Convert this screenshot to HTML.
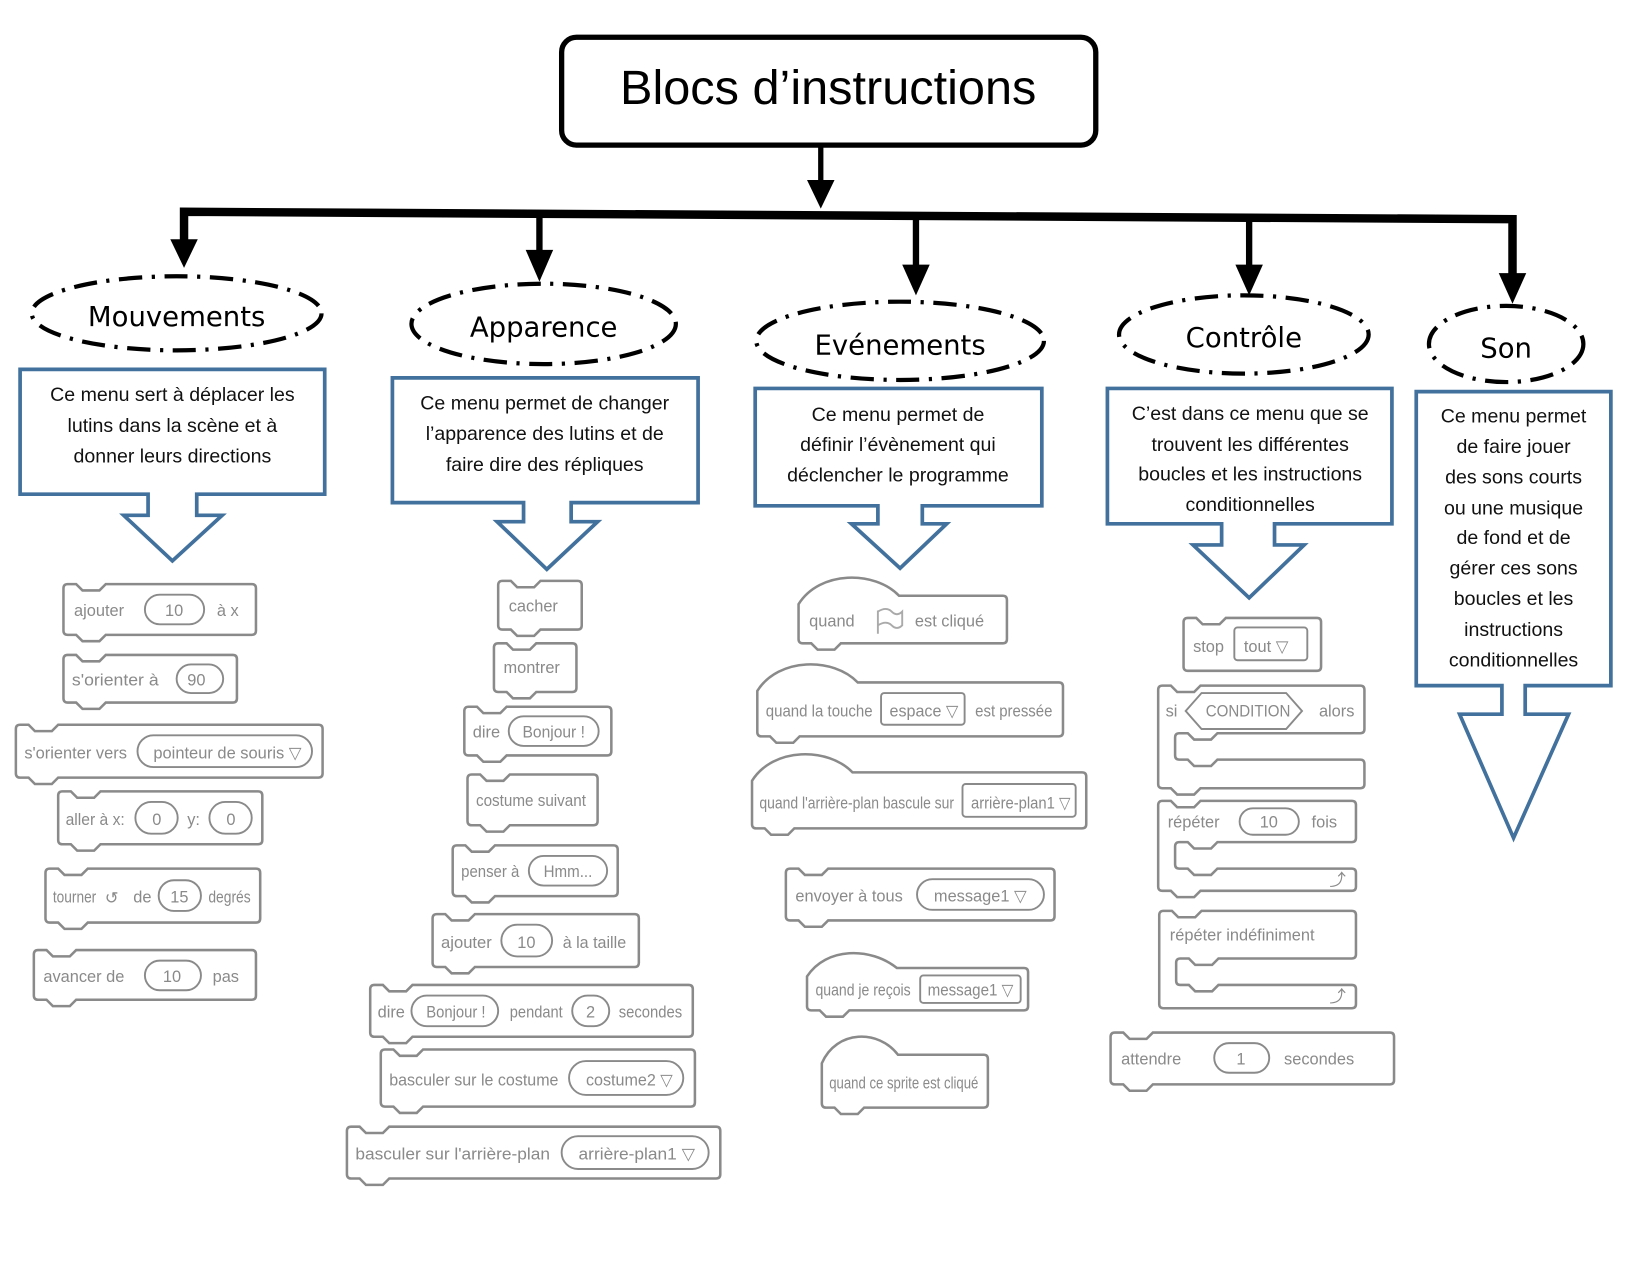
<!DOCTYPE html>
<html><head><meta charset="utf-8"><style>
html,body{margin:0;padding:0;background:#fff}
svg{display:block}
.b{fill:#fff;stroke:#8a8a8a;stroke-width:2.4}
.o{fill:#fff;stroke:#8a8a8a;stroke-width:1.8}
.t{font-family:"Liberation Sans",sans-serif;fill:#8a8a8a;font-size:15.5px}
.c{fill:#fff;stroke:#41719c;stroke-width:3.5}
.ct{font-family:"Liberation Sans",sans-serif;fill:#111;font-size:18.5px;text-anchor:middle}
.e{fill:#fff;stroke:#000;stroke-width:4;stroke-dasharray:22 9 3 9}
.et{font-family:"DejaVu Sans",sans-serif;fill:#000;font-size:26px;text-anchor:middle}
</style></head><body>
<svg width="1650" height="1275" viewBox="0 0 1560 1205" xmlns="http://www.w3.org/2000/svg">
<rect x="531" y="35" width="505" height="102" rx="14" fill="#fff" stroke="#000" stroke-width="5"/>
<text x="783" y="98" font-family="Liberation Sans, sans-serif" font-size="46" text-anchor="middle" fill="#000">Blocs d’instructions</text>
<line x1="776" y1="137" x2="776" y2="172" stroke="#000" stroke-width="5"/>
<polygon points="763,170 789,170 776,197" fill="#000"/>
<polyline points="174,228 174,200 1430,207 1430,260" fill="none" stroke="#000" stroke-width="8"/>
<line x1="510" y1="201" x2="510" y2="238" stroke="#000" stroke-width="6"/>
<line x1="866" y1="203" x2="866" y2="252" stroke="#000" stroke-width="6"/>
<line x1="1181" y1="205" x2="1181" y2="252" stroke="#000" stroke-width="6"/>
<polygon points="161,226 187,226 174,253" fill="#000"/>
<polygon points="497,236 523,236 510,266" fill="#000"/>
<polygon points="853,250 879,250 866,279" fill="#000"/>
<polygon points="1168,250 1194,250 1181,279" fill="#000"/>
<polygon points="1417,258 1443,258 1430,287" fill="#000"/>
<ellipse class="e" cx="167" cy="296" rx="137" ry="35"/><text class="et" x="167" y="308">Mouvements</text>
<ellipse class="e" cx="514" cy="306" rx="125" ry="38"/><text class="et" x="514" y="318">Apparence</text>
<ellipse class="e" cx="851" cy="322" rx="136" ry="37"/><text class="et" x="851" y="335">Evénements</text>
<ellipse class="e" cx="1176" cy="316" rx="118" ry="37"/><text class="et" x="1176" y="328">Contrôle</text>
<ellipse class="e" cx="1424" cy="325" rx="73" ry="36"/><text class="et" x="1424" y="338">Son</text>
<path class="c" d="M19 349H307V467H186V487H210L163 530L117 487H140V467H19Z"/>
<text class="ct" x="163" y="379">Ce menu sert à déplacer les</text>
<text class="ct" x="163" y="408">lutins dans la scène et à</text>
<text class="ct" x="163" y="437">donner leurs directions</text>
<path class="c" d="M371 357H660V475H540V493H565L517 538L470 493H495V475H371Z"/>
<text class="ct" x="515" y="387">Ce menu permet de changer</text>
<text class="ct" x="515" y="416">l’apparence des lutins et de</text>
<text class="ct" x="515" y="445">faire dire des répliques</text>
<path class="c" d="M714 367H985V478H872V495H895L851 537L805 495H830V478H714Z"/>
<text class="ct" x="849" y="398">Ce menu permet de</text>
<text class="ct" x="849" y="426">définir l’évènement qui</text>
<text class="ct" x="849" y="455">déclencher le programme</text>
<path class="c" d="M1047 367H1316V495H1205V515H1233L1181 565L1128 515H1155V495H1047Z"/>
<text class="ct" x="1182" y="397">C’est dans ce menu que se</text>
<text class="ct" x="1182" y="426">trouvent les différentes</text>
<text class="ct" x="1182" y="454">boucles et les instructions</text>
<text class="ct" x="1182" y="483">conditionnelles</text>
<path class="c" d="M1339 370H1523V648H1442V675H1483L1431 792L1380 675H1420V648H1339Z"/>
<text class="ct" x="1431" y="399">Ce menu permet</text>
<text class="ct" x="1431" y="428">de faire jouer</text>
<text class="ct" x="1431" y="457">des sons courts</text>
<text class="ct" x="1431" y="486">ou une musique</text>
<text class="ct" x="1431" y="514">de fond et de</text>
<text class="ct" x="1431" y="543">gérer ces sons</text>
<text class="ct" x="1431" y="572">boucles et les</text>
<text class="ct" x="1431" y="601">instructions</text>
<text class="ct" x="1431" y="630">conditionnelles</text>

<g transform="translate(60,552)"><path class="b" d="M0 4Q0 0 4 0H12L18 6H34L40 0H178Q182 0 182 4V44Q182 48 178 48H40L34 54H18L12 48H4Q0 48 0 44Z"/>
<text class="t" x="10" y="30">ajouter</text><rect class="o" x="77" y="10" width="56" height="28" rx="14"/><text class="t" x="96" y="30">10</text><text class="t" x="145" y="30">à x</text></g>
<g transform="translate(60,619)"><path class="b" d="M0 4Q0 0 4 0H12L18 6H34L40 0H160Q164 0 164 4V41Q164 45 160 45H40L34 51H18L12 45H4Q0 45 0 41Z"/>
<text class="t" x="8" y="29" textLength="82" lengthAdjust="spacingAndGlyphs">s'orienter à</text><rect class="o" x="107" y="9" width="44" height="27" rx="13.5"/><text class="t" x="117" y="29">90</text></g>
<g transform="translate(15,685)"><path class="b" d="M0 4Q0 0 4 0H12L18 6H34L40 0H286Q290 0 290 4V46Q290 50 286 50H40L34 56H18L12 50H4Q0 50 0 46Z"/>
<text class="t" x="8" y="32" textLength="97" lengthAdjust="spacingAndGlyphs">s'orienter vers</text><rect class="o" x="115" y="10" width="165" height="30" rx="15"/><text class="t" x="130" y="32" textLength="140" lengthAdjust="spacingAndGlyphs">pointeur de souris ▽</text></g>
<g transform="translate(55,748)"><path class="b" d="M0 4Q0 0 4 0H12L18 6H34L40 0H189Q193 0 193 4V46Q193 50 189 50H40L34 56H18L12 50H4Q0 50 0 46Z"/>
<text class="t" x="7" y="32" textLength="56" lengthAdjust="spacingAndGlyphs">aller à x:</text><rect class="o" x="73" y="10" width="40" height="30" rx="15"/><text class="t" x="89" y="32">0</text><text class="t" x="122" y="32">y:</text><rect class="o" x="143" y="10" width="40" height="30" rx="15"/><text class="t" x="159" y="32">0</text></g>
<g transform="translate(43,821)"><path class="b" d="M0 4Q0 0 4 0H12L18 6H34L40 0H199Q203 0 203 4V47Q203 51 199 51H40L34 57H18L12 51H4Q0 51 0 47Z"/>
<text class="t" x="7" y="32" font-size="14" textLength="41" lengthAdjust="spacingAndGlyphs">tourner</text><text class="t" x="56" y="33" font-size="18">↺</text><text class="t" x="83" y="32">de</text><rect class="o" x="107" y="11" width="40" height="29" rx="14.5"/><text class="t" x="118" y="32">15</text><text class="t" x="154" y="32" font-size="14" textLength="40" lengthAdjust="spacingAndGlyphs">degrés</text></g>
<g transform="translate(32,898)"><path class="b" d="M0 4Q0 0 4 0H12L18 6H34L40 0H206Q210 0 210 4V43Q210 47 206 47H40L34 53H18L12 47H4Q0 47 0 43Z"/>
<text class="t" x="9" y="30">avancer de</text><rect class="o" x="105" y="10" width="53" height="28" rx="14"/><text class="t" x="122" y="30">10</text><text class="t" x="169" y="30">pas</text></g>

<g transform="translate(471,549)"><path class="b" d="M0 4Q0 0 4 0H12L18 6H34L40 0H75Q79 0 79 4V42Q79 46 75 46H40L34 52H18L12 46H4Q0 46 0 42Z"/><text class="t" x="10" y="29">cacher</text></g>
<g transform="translate(467,608)"><path class="b" d="M0 4Q0 0 4 0H12L18 6H34L40 0H74Q78 0 78 4V42Q78 46 74 46H40L34 52H18L12 46H4Q0 46 0 42Z"/><text class="t" x="9" y="28">montrer</text></g>
<g transform="translate(439,668)"><path class="b" d="M0 4Q0 0 4 0H12L18 6H34L40 0H135Q139 0 139 4V42Q139 46 135 46H40L34 52H18L12 46H4Q0 46 0 42Z"/><text class="t" x="8" y="29" font-size="14">dire</text><rect class="o" x="42" y="9" width="85" height="28" rx="14"/><text class="t" x="55" y="29" font-size="14" textLength="59" lengthAdjust="spacingAndGlyphs">Bonjour !</text></g>
<g transform="translate(442,732)"><path class="b" d="M0 4Q0 0 4 0H12L18 6H34L40 0H119Q123 0 123 4V44Q123 48 119 48H40L34 54H18L12 48H4Q0 48 0 44Z"/><text class="t" x="8" y="30" font-size="14" textLength="104" lengthAdjust="spacingAndGlyphs">costume suivant</text></g>
<g transform="translate(428,799)"><path class="b" d="M0 4Q0 0 4 0H12L18 6H34L40 0H152Q156 0 156 4V44Q156 48 152 48H40L34 54H18L12 48H4Q0 48 0 44Z"/><text class="t" x="8" y="30" font-size="14" textLength="55" lengthAdjust="spacingAndGlyphs">penser à</text><rect class="o" x="72" y="10" width="74" height="28" rx="14"/><text class="t" x="86" y="30" font-size="14" textLength="46" lengthAdjust="spacingAndGlyphs">Hmm...</text></g>
<g transform="translate(409,864)"><path class="b" d="M0 4Q0 0 4 0H12L18 6H34L40 0H191Q195 0 195 4V46Q195 50 191 50H40L34 56H18L12 50H4Q0 50 0 46Z"/><text class="t" x="8" y="32" textLength="48" lengthAdjust="spacingAndGlyphs">ajouter</text><rect class="o" x="65" y="10" width="48" height="30" rx="15"/><text class="t" x="80" y="32">10</text><text class="t" x="123" y="32" textLength="60" lengthAdjust="spacingAndGlyphs">à la taille</text></g>
<g transform="translate(350,931)"><path class="b" d="M0 4Q0 0 4 0H12L18 6H34L40 0H301Q305 0 305 4V45Q305 49 301 49H40L34 55H18L12 49H4Q0 49 0 45Z"/><text class="t" x="7" y="31" font-size="14">dire</text><rect class="o" x="39" y="10" width="82" height="29" rx="14.5"/><text class="t" x="53" y="31" font-size="14" textLength="56" lengthAdjust="spacingAndGlyphs">Bonjour !</text><text class="t" x="132" y="31" font-size="14" textLength="50" lengthAdjust="spacingAndGlyphs">pendant</text><rect class="o" x="191" y="10" width="35" height="29" rx="14.5"/><text class="t" x="204" y="31" font-size="14">2</text><text class="t" x="235" y="31" font-size="14" textLength="60" lengthAdjust="spacingAndGlyphs">secondes</text></g>
<g transform="translate(360,992)"><path class="b" d="M0 4Q0 0 4 0H12L18 6H34L40 0H293Q297 0 297 4V50Q297 54 293 54H40L34 60H18L12 54H4Q0 54 0 50Z"/><text class="t" x="8" y="34" textLength="160" lengthAdjust="spacingAndGlyphs">basculer sur le costume</text><rect class="o" x="178" y="11" width="108" height="32" rx="16"/><text class="t" x="194" y="34" textLength="82" lengthAdjust="spacingAndGlyphs">costume2 ▽</text></g>
<g transform="translate(328,1065)"><path class="b" d="M0 4Q0 0 4 0H12L18 6H34L40 0H349Q353 0 353 4V45Q353 49 349 49H40L34 55H18L12 49H4Q0 49 0 45Z"/><text class="t" x="8" y="31" textLength="184" lengthAdjust="spacingAndGlyphs">basculer sur l'arrière-plan</text><rect class="o" x="203" y="9" width="139" height="31" rx="15.5"/><text class="t" x="219" y="31" textLength="110" lengthAdjust="spacingAndGlyphs">arrière-plan1 ▽</text></g>

<g transform="translate(755,563)"><path class="b" d="M0 8C20 -24 72 -24 95 0H193Q197 0 197 4V41Q197 45 193 45H40L34 51H18L12 45H4Q0 45 0 41Z"/><text class="t" x="10" y="29">quand</text><path d="M75 14V36M75 15Q83 10 88 15T98 15V28Q93 33 88 28T75 28" fill="none" stroke="#aaa" stroke-width="1.8"/><text class="t" x="110" y="29">est cliqué</text></g>
<g transform="translate(716,645)"><path class="b" d="M0 8C20 -24 72 -24 95 0H285Q289 0 289 4V47Q289 51 285 51H40L34 57H18L12 51H4Q0 51 0 47Z"/><text class="t" x="8" y="32" textLength="101" lengthAdjust="spacingAndGlyphs">quand la touche</text><rect class="o" x="117" y="10" width="79" height="30" rx="3"/><text class="t" x="125" y="32" textLength="65" lengthAdjust="spacingAndGlyphs">espace ▽</text><text class="t" x="206" y="32" textLength="73" lengthAdjust="spacingAndGlyphs">est pressée</text></g>
<g transform="translate(711,730)"><path class="b" d="M0 8C20 -24 72 -24 95 0H312Q316 0 316 4V49Q316 53 312 53H40L34 59H18L12 53H4Q0 53 0 49Z"/><text class="t" x="7" y="34" textLength="184" lengthAdjust="spacingAndGlyphs">quand l'arrière-plan bascule sur</text><rect class="o" x="199" y="11" width="107" height="31" rx="3"/><text class="t" x="207" y="34" textLength="94" lengthAdjust="spacingAndGlyphs">arrière-plan1 ▽</text></g>
<g transform="translate(743,821)"><path class="b" d="M0 4Q0 0 4 0H12L18 6H34L40 0H250Q254 0 254 4V45Q254 49 250 49H40L34 55H18L12 49H4Q0 49 0 45Z"/><text class="t" x="9" y="31">envoyer à tous</text><rect class="o" x="124" y="10" width="120" height="29" rx="14.5"/><text class="t" x="140" y="31">message1 ▽</text></g>
<g transform="translate(763,915)"><path class="b" d="M0 8C18 -20 60 -20 85 0H205Q209 0 209 4V36Q209 40 205 40H40L34 46H18L12 40H4Q0 40 0 36Z"/><text class="t" x="8" y="26" font-size="13" textLength="90" lengthAdjust="spacingAndGlyphs">quand je reçois</text><rect class="o" x="107" y="7" width="95" height="26" rx="3"/><text class="t" x="114" y="26" font-size="13" textLength="81" lengthAdjust="spacingAndGlyphs">message1 ▽</text></g>
<g transform="translate(777,997)"><path class="b" d="M0 8C14 -24 54 -24 72 0H153Q157 0 157 4V46Q157 50 153 50H40L34 56H18L12 50H4Q0 50 0 46Z"/><text class="t" x="7" y="32" font-size="14" textLength="141" lengthAdjust="spacingAndGlyphs">quand ce sprite est cliqué</text></g>

<g transform="translate(1119,584)"><path class="b" d="M0 4Q0 0 4 0H12L18 6H34L40 0H126Q130 0 130 4V46Q130 50 126 50H4Q0 50 0 46Z"/><text class="t" x="9" y="32">stop</text><rect class="o" x="48" y="9" width="69" height="31" rx="3"/><text class="t" x="57" y="32">tout ▽</text></g>
<g transform="translate(1095,648)"><path class="b" d="M0 4Q0 0 4 0H12L18 6H34L40 0H191Q195 0 195 4V41Q195 45 191 45H56L50 51H34L28 45H20Q16 45 16 49V66Q16 70 20 70H28L34 76H50L56 70H191Q195 70 195 74V93Q195 97 191 97H40L34 103H18L12 97H4Q0 97 0 93Z"/><text class="t" x="7" y="29" font-size="13">si</text><path class="o" d="M26 24L41 7H121L136 24L121 41H41Z"/><text class="t" x="45" y="29" font-size="14" textLength="80" lengthAdjust="spacingAndGlyphs">CONDITION</text><text class="t" x="152" y="29" font-size="13">alors</text></g>
<g transform="translate(1095,757)"><path class="b" d="M0 4Q0 0 4 0H12L18 6H34L40 0H183Q187 0 187 4V35Q187 39 183 39H56L50 45H34L28 39H20Q16 39 16 43V60Q16 64 20 64H28L34 70H50L56 64H183Q187 64 187 68V81Q187 85 183 85H40L34 91H18L12 85H4Q0 85 0 81Z"/><text class="t" x="9" y="25">répéter</text><rect class="o" x="77" y="7" width="56" height="25" rx="12.5"/><text class="t" x="96" y="25">10</text><text class="t" x="145" y="25">fois</text><text class="t" x="162" y="80" font-size="14">⤴</text></g>
<g transform="translate(1096,861)"><path class="b" d="M0 4Q0 0 4 0H12L18 6H34L40 0H182Q186 0 186 4V41Q186 45 182 45H56L50 51H34L28 45H20Q16 45 16 49V66Q16 70 20 70H28L34 76H50L56 70H182Q186 70 186 74V88Q186 92 182 92H4Q0 92 0 88Z"/><text class="t" x="10" y="28">répéter indéfiniment</text><text class="t" x="161" y="86" font-size="14">⤴</text></g>
<g transform="translate(1050,976)"><path class="b" d="M0 4Q0 0 4 0H12L18 6H34L40 0H264Q268 0 268 4V45Q268 49 264 49H40L34 55H18L12 49H4Q0 49 0 45Z"/><text class="t" x="10" y="30" font-size="16">attendre</text><rect class="o" x="98" y="10" width="52" height="28" rx="14"/><text class="t" x="119" y="30" font-size="16">1</text><text class="t" x="164" y="30" font-size="16">secondes</text></g>
</svg>
</body></html>
